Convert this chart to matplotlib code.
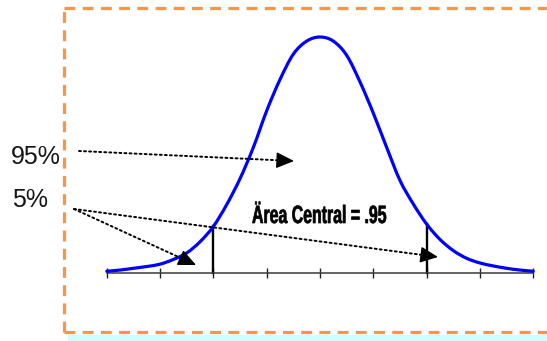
import matplotlib
matplotlib.use("Agg")
import matplotlib.pyplot as plt
from matplotlib.patches import Rectangle, PathPatch
from matplotlib.path import Path
from matplotlib.transforms import Affine2D
import matplotlib.patheffects as pe
import numpy as np

# ---- data ----
z_values = [-4.0, -3.75, -3.5, -3.25, -3.0, -2.75, -2.5, -2.25, -2.0, -1.75, -1.5, -1.25,
            -1.0, -0.75, -0.5, -0.25, 0.0, 0.25, 0.5, 0.75, 1.0, 1.25, 1.5, 1.75,
            2.0, 2.25, 2.5, 2.75, 3.0, 3.25, 3.5, 3.75, 4.0]
density = [0.003, 0.005, 0.008, 0.011, 0.015, 0.023, 0.034, 0.053, 0.079, 0.116, 0.160, 0.213,
           0.275, 0.328, 0.371, 0.393, 0.400, 0.393, 0.369, 0.324, 0.271, 0.213, 0.157, 0.117,
           0.083, 0.057, 0.038, 0.025, 0.017, 0.012, 0.008, 0.005, 0.003]
tick_positions = [-4, -3, -2, -1, 0, 1, 2, 3, 4]
critical_values = [-2.0, 2.0]
label_95 = "95%"
label_5 = "5%"
label_area = "Ärea Central = .95"

W, H = 547, 341
fig = plt.figure(figsize=(W / 100, H / 100), dpi=100)
ax = fig.add_axes([0, 0, 1, 1])
ax.set_facecolor("white")

# pixel layout of the data frame
cx, sx = 320.0, 53.3     # x centre and pixels per unit
base, sy = 273.0, 590.0  # baseline pixel row and pixels per density unit
ax.set_xlim(-cx / sx, (W - cx) / sx)
ax.set_ylim(-(H - base) / sy, base / sy)

# axis: bottom spine at y=0 with inout ticks
for s in ["top", "right", "left"]:
    ax.spines[s].set_visible(False)
ax.spines["bottom"].set_position(("data", 0))
ax.spines["bottom"].set_bounds(tick_positions[0], tick_positions[-1])
ax.spines["bottom"].set_color("#3a3a3a")
ax.spines["bottom"].set_linewidth(1.1)
ax.set_xticks(tick_positions)
ax.set_xticklabels([])
ax.set_yticks([])
ax.tick_params(axis="x", direction="inout", length=7, width=1.0, color="#222222")

# normal curve drawn as a smooth (Catmull-Rom -> Bezier) path through the points
pts = np.column_stack([z_values, density])
verts = [pts[0]]
codes = [Path.MOVETO]
n = len(pts)
for i in range(n - 1):
    p0 = pts[max(i - 1, 0)]
    p1 = pts[i]
    p2 = pts[i + 1]
    p3 = pts[min(i + 2, n - 1)]
    c1 = p1 + (p2 - p0) / 6.0
    c2 = p2 - (p3 - p1) / 6.0
    verts += [c1, c2, p2]
    codes += [Path.CURVE4] * 3
ax.add_patch(PathPatch(Path(verts, codes), facecolor="none", edgecolor="#0000FF",
                       lw=2.3, capstyle="round", zorder=3))

# critical lines up to the curve
for c in critical_values:
    top = np.interp(c, z_values, density)
    ax.plot([c, c], [0, top], color="black", lw=1.7, zorder=2)

# ---- annotations (figure pixel coords, origin bottom-left) ----
def fp(x, y):
    return (x, H - y)

class Condensed(pe.AbstractPathEffect):
    """Condense glyphs horizontally around the text anchor and embolden slightly."""
    def __init__(self, x0, factor, stroke):
        super().__init__()
        self.x0, self.factor, self.stroke = x0, factor, stroke
    def draw_path(self, renderer, gc, tpath, affine, rgbFace=None):
        aff = affine + Affine2D().translate(-self.x0, 0).scale(self.factor, 1).translate(self.x0, 0)
        gc0 = renderer.new_gc()
        gc0.copy_properties(gc)
        gc0.set_linewidth(self.stroke)
        gc0.set_foreground(rgbFace if rgbFace is not None else "black")
        renderer.draw_path(gc0, tpath, aff, rgbFace)
        gc0.restore()

txt_kw = dict(xycoords="figure pixels", fontfamily="Liberation Sans", color="#151515")
ax.annotate(label_95, xy=fp(11, 164), fontsize=18, va="baseline", ha="left", **txt_kw)
ax.annotate(label_5, xy=fp(12, 207), fontsize=18, va="baseline", ha="left", **txt_kw)
t = ax.annotate(label_area, xy=fp(252, 223), xycoords="figure pixels",
                fontfamily="Liberation Sans", fontweight="bold",
                fontsize=18, va="baseline", ha="left", color="black")
t.set_path_effects([Condensed(252, 0.635, 0.5)])

line_kw = dict(arrowstyle="-", color="black", lw=1.4, linestyle=(0, (1, 1.6)),
               shrinkA=0, shrinkB=0)
head_kw = dict(arrowstyle="-|>,head_length=1.1,head_width=0.5", color="black",
               lw=1.0, shrinkA=0, shrinkB=0)
def arrow(p0, p1):
    p0 = np.array(p0, float)
    p1 = np.array(p1, float)
    u = (p1 - p0) / np.hypot(*(p1 - p0))
    pm = p1 - u * 12
    ax.annotate("", xy=fp(*pm), xytext=fp(*p0), xycoords="figure pixels",
                textcoords="figure pixels", arrowprops=line_kw, zorder=4)
    ax.annotate("", xy=fp(*p1), xytext=fp(*(p1 - u * 16)), xycoords="figure pixels",
                textcoords="figure pixels", arrowprops=head_kw, zorder=4)

arrow((79, 151), (294, 161))
arrow((74, 209), (196, 265))
arrow((74, 209), (438, 257))

# ---- dashed orange frame and cyan strip ----
orange = "#F79646"
dash = dict(color=orange, lw=2.3, dashes=(3.4, 2.3), transform=None, clip_on=False,
            solid_capstyle="butt", dash_capstyle="butt")
L, T, B, R = 64, 8, 332, W + 10
ax.add_line(plt.Line2D([L, L], [H - B, H - T], **dash))
ax.add_line(plt.Line2D([L, R], [H - T, H - T], **dash))
ax.add_line(plt.Line2D([L, R], [H - B, H - B], **dash))
ax.add_patch(Rectangle((68, 0), W, H - 335, transform=None, facecolor="#CCFFFF",
                       edgecolor="none", clip_on=False, zorder=0))

fig.savefig("out.png", dpi=100, facecolor="white")
